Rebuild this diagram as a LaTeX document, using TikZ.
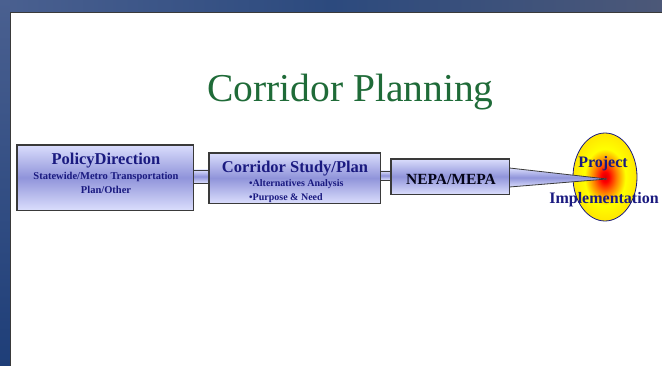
\documentclass[tikz,border=0pt]{standalone}
\usepackage{fontspec}
\setmainfont{Liberation Serif}
\usetikzlibrary{calc,shapes.geometric}
\definecolor{navy}{HTML}{1A1A80}
\definecolor{titlegreen}{HTML}{1F6B38}
\definecolor{boxlight}{HTML}{DADDFC}
\definecolor{boxmid}{HTML}{9094DA}
\definecolor{edgegray}{HTML}{3A3A3A}
\definecolor{frameA}{HTML}{4A6090}
\definecolor{frameB}{HTML}{2C4A7E}
\definecolor{frameC}{HTML}{4C5878}
\definecolor{frameD}{HTML}{1E3E78}
\definecolor{gold}{HTML}{FFE600}
\pgfdeclareradialshading{fireshade}{\pgfpoint{0bp}{0bp}}{color(0bp)=(red!85!black); color(3bp)=(red); color(9bp)=(orange); color(16bp)=(yellow); color(25bp)=(gold); color(50bp)=(gold)}
\tikzset{
  boxshade/.style={top color=boxlight, bottom color=boxlight, middle color=boxmid},
  stagebox/.style={rectangle, draw=edgegray, line width=0.9pt, boxshade, inner sep=0pt},
  bartop/.style={draw=edgegray, line width=0.8pt},
  lbl/.style={text=navy, font=\bfseries\fontsize{16.5}{18}\selectfont, inner sep=0pt, anchor=base},
  sublbl/.style={text=navy, font=\bfseries\fontsize{10.5}{12}\selectfont, inner sep=0pt, anchor=base},
}
\begin{document}
\begin{tikzpicture}[x=1pt,y=-1pt]
\useasboundingbox (0,0) rectangle (662,366);
% frame
\shade[left color=frameA, right color=frameC, middle color=frameB] (0,0) rectangle (662,12);
\shade[top color=frameA, bottom color=frameD] (0,0) rectangle (10,366);
\fill[white] (10,12) rectangle (662,366);
\draw[edgegray, line width=1.2pt] (10.6,366) -- (10.6,12.6) -- (662,12.6);
% title
\node[text=titlegreen, font=\fontsize{39.5}{41}\selectfont, inner sep=0pt, anchor=base] (title) at (350.5,101.5) {Corridor Planning};
% boxes
\node[stagebox, minimum width=176pt, minimum height=65pt] (box1) at (105,177.5) {};
\node[stagebox, minimum width=171pt, minimum height=50pt] (box2) at (294.5,178) {};
\node[stagebox, minimum width=118pt, minimum height=35pt] (box3) at (450,176.5) {};
\node[ellipse, draw=navy, line width=0.8pt, shading=fireshade, minimum width=64pt, minimum height=88pt, inner sep=0pt] (goal) at (605,177) {};
\coordinate (tip) at (607,179);
% connector bars
\shade[boxshade] (box1.east |- 0,170) rectangle (box2.west |- 0,183);
\draw[bartop] (box1.east |- 0,170) -- (box2.west |- 0,170);
\draw[bartop] (box1.east |- 0,183) -- (box2.west |- 0,183);
\shade[boxshade] (box2.east |- 0,171) rectangle (box3.west |- 0,180);
\draw[bartop] (box2.east |- 0,171) -- (box3.west |- 0,171);
\draw[bartop] (box2.east |- 0,180) -- (box3.west |- 0,180);
\shade[boxshade] (box3.east |- 0,168) -- (tip) -- (box3.east |- 0,187) -- cycle;
\draw[bartop] (box3.east |- 0,168) -- (tip) -- (box3.east |- 0,187);
% redraw box outlines over bars
\draw[edgegray, line width=0.9pt] (box1.north west) rectangle (box1.south east);
\draw[edgegray, line width=0.9pt] (box2.north west) rectangle (box2.south east);
\draw[edgegray, line width=0.9pt] (box3.north west) rectangle (box3.south east);
% texts
\node[lbl] (t1) at (106,165) {PolicyDirection};
\node[sublbl] (t1a) at (106,180) {Statewide/Metro Transportation};
\node[sublbl] (t1b) at (106,194) {Plan/Other};
\node[lbl] (t2) at (295,173) {Corridor Study/Plan};
\node[sublbl, anchor=base west, font=\bfseries\fontsize{10}{12}\selectfont] (t2a) at (249,187) {•Alternatives Analysis};
\node[sublbl, anchor=base west, font=\bfseries\fontsize{10}{12}\selectfont] (t2b) at (249,201) {•Purpose \& Need};
\node[lbl, text=black!80!navy, font=\bfseries\fontsize{15.5}{18}\selectfont] (t3) at (451,185) {NEPA/MEPA};
\node[lbl, font=\bfseries\fontsize{16}{18}\selectfont] (t4) at (603,168) {Project};
\node[lbl, font=\bfseries\fontsize{16}{18}\selectfont] (t5) at (604,204) {Implementation};
\end{tikzpicture}
\end{document}
